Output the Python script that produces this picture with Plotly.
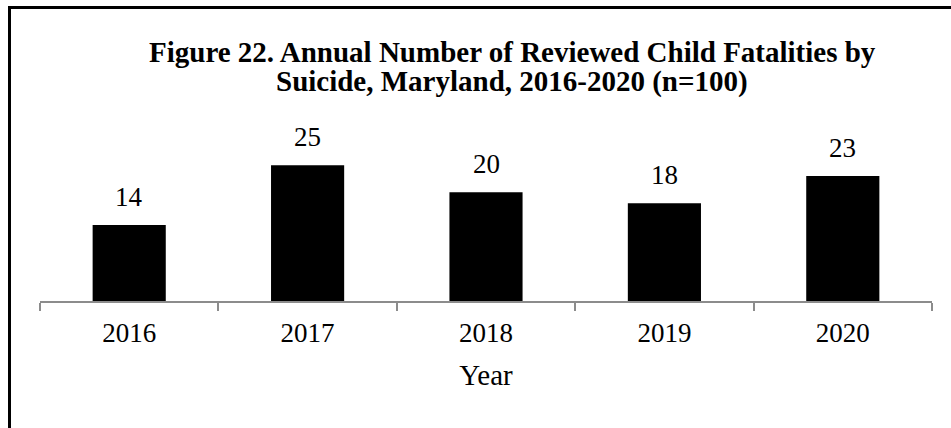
import plotly.graph_objects as go

# Reviewed child suicide fatalities per year
years = ["2016", "2017", "2018", "2019", "2020"]
deaths = [14, 25, 20, 18, 23]
title_lines = [
    "Figure 22. Annual Number of Reviewed Child Fatalities by",
    "Suicide, Maryland, 2016-2020 (n=100)",
]

W, H = 951, 428
ML, MR, MT, MB = 40, 19, 138, 127
Y_MAX = 30
SERIF = "Liberation Serif, Times New Roman, serif"

fig = go.Figure(
    go.Bar(
        x=years,
        y=deaths,
        marker=dict(color="black", line=dict(width=0)),
        width=0.41,
        hoverinfo="skip",
    )
)

# value labels above each bar
for i, v in enumerate(deaths):
    fig.add_annotation(
        x=i, y=v, text=str(v), showarrow=False,
        xref="x", yref="y",
        yanchor="bottom", yshift=11,
        font=dict(family=SERIF, size=27, color="black"),
    )

pw = W - ML - MR
ph = H - MT - MB
def px_to_paper_x(px):
    return (px - ML) / pw
def px_to_paper_y(py):
    return (H - MB - py) / ph

# two-line centred title
for line, cy in zip(title_lines, [52, 81]):
    fig.add_annotation(
        xref="paper", yref="paper",
        x=px_to_paper_x(512), y=px_to_paper_y(cy),
        xanchor="center", yanchor="middle",
        text=f"<b>{line}</b>", showarrow=False,
        font=dict(family=SERIF, size=29, color="black"),
    )

# frame around the figure (left and top edges)
fig.add_shape(
    type="path", xref="paper", yref="paper",
    path=f"M {px_to_paper_x(9.5)} {px_to_paper_y(440)} L {px_to_paper_x(9.5)} {px_to_paper_y(7.5)} L {px_to_paper_x(960)} {px_to_paper_y(7.5)}",
    line=dict(color="black", width=3),
)

fig.update_layout(
    width=W, height=H,
    margin=dict(l=ML, r=MR, t=MT, b=MB),
    paper_bgcolor="white", plot_bgcolor="white",
    showlegend=False,
    font=dict(family=SERIF, color="black"),
)

fig.update_xaxes(
    type="category", range=[-0.5, len(years) - 0.5], autorange=False,
    showline=True, linecolor="#8c8c8c", linewidth=1.5,
    ticks="outside", tickson="boundaries", ticklen=8, tickcolor="#8c8c8c", tickwidth=1.5,
    tickfont=dict(size=27, color="black"), tickangle=0, ticklabelstandoff=7,
    showgrid=False,
    title=dict(text="Year", font=dict(size=29, color="black"), standoff=18),
)
fig.update_yaxes(range=[0, Y_MAX], autorange=False, visible=False, showgrid=False, zeroline=False)

fig.write_html("out.html")
